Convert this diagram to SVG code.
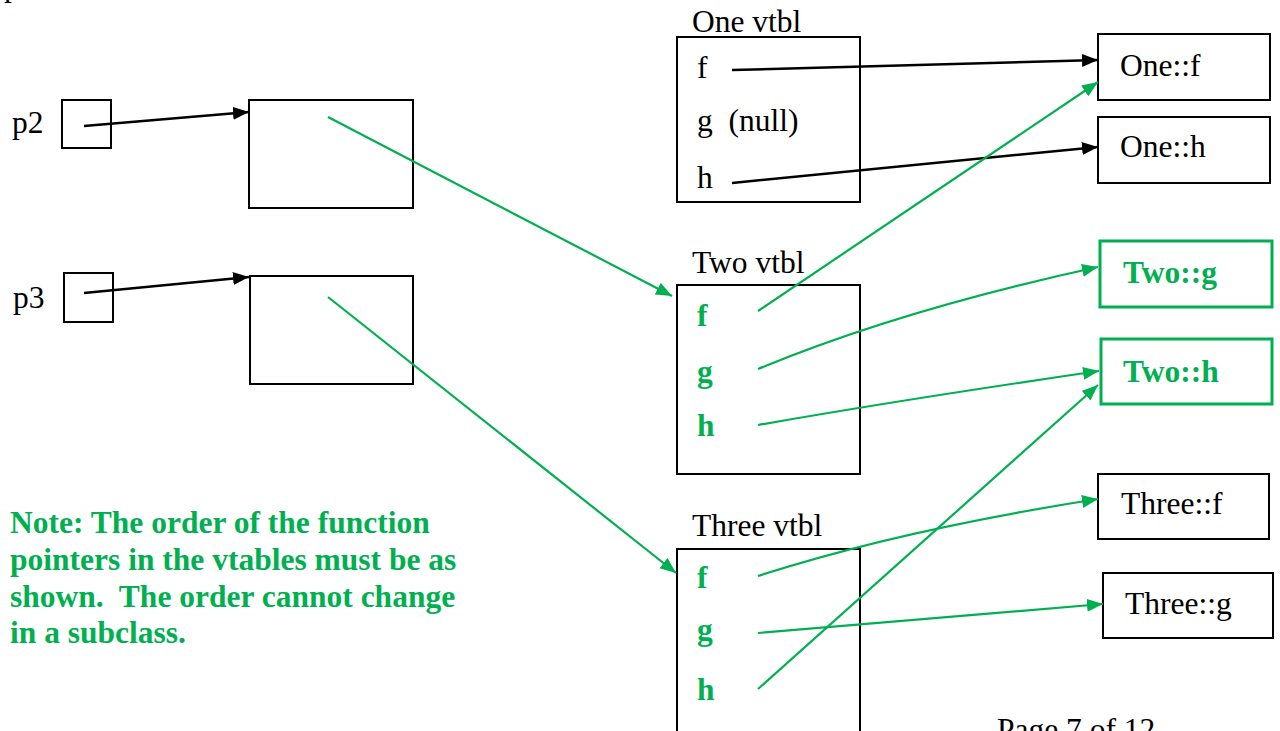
<svg xmlns="http://www.w3.org/2000/svg" width="1280" height="731" viewBox="0 0 1280 731">
<style>
text{font-family:"Liberation Serif","Times New Roman",serif;font-size:31.5px;fill:#000}
.g{fill:#00B050;font-weight:bold}
.box{fill:none;stroke:#000;stroke-width:2}
.gbox{fill:none;stroke:#00B050;stroke-width:3}
.bl{stroke:#000;stroke-width:2.5;fill:none}
.gl{stroke:#00B050;stroke-width:2.2;fill:none}
</style>
<defs>
<marker id="ab" markerUnits="userSpaceOnUse" markerWidth="18" markerHeight="14" refX="16" refY="6.5" orient="auto"><path d="M0,0 L16,6.5 L0,13 z" fill="#000"/></marker>
<marker id="ag" markerUnits="userSpaceOnUse" markerWidth="18" markerHeight="14" refX="16" refY="6.5" orient="auto"><path d="M0,0 L16,6.5 L0,13 z" fill="#00B050"/></marker>
</defs>
<rect width="1280" height="731" fill="#fff"/>
<text x="4" y="-4">p1</text>
<g id="p2"><text x="12" y="133">p2</text><rect class="box" x="62" y="100" width="49" height="48"/></g>
<g id="obj2"><rect class="box" x="249" y="100" width="164" height="108"/></g>
<g id="p3"><text x="13" y="308">p3</text><rect class="box" x="64" y="273" width="49" height="49"/></g>
<g id="obj3"><rect class="box" x="250" y="276" width="163" height="108"/></g>
<g id="onevtbl"><text x="692" y="32">One vtbl</text><rect class="box" x="677" y="37" width="183" height="165"/>
<text x="697" y="78">f</text><text x="697" y="131" xml:space="preserve">g  (null)</text><text x="697" y="188">h</text></g>
<g id="onef"><rect class="box" x="1098" y="34" width="172" height="66"/><text x="1120" y="76">One::f</text></g>
<g id="oneh"><rect class="box" x="1098" y="117" width="172" height="66"/><text x="1120" y="157">One::h</text></g>
<g id="twovtbl"><text x="692" y="273">Two vtbl</text><rect class="box" x="677" y="285" width="183" height="189"/>
<text class="g" x="697" y="326">f</text><text class="g" x="697" y="382">g</text><text class="g" x="697" y="436">h</text></g>
<g id="twog"><rect class="gbox" x="1100" y="241" width="172" height="66"/><text class="g" x="1123" y="283">Two::g</text></g>
<g id="twoh"><rect class="gbox" x="1101" y="339" width="171" height="65"/><text class="g" x="1123" y="382">Two::h</text></g>
<g id="threevtbl"><text x="692" y="536">Three vtbl</text><rect class="box" x="677" y="549" width="183" height="200"/>
<text class="g" x="697" y="588">f</text><text class="g" x="697" y="640">g</text><text class="g" x="697" y="700">h</text></g>
<g id="threef"><rect class="box" x="1098" y="474" width="171" height="65"/><text x="1121" y="514">Three::f</text></g>
<g id="threeg"><rect class="box" x="1103" y="573" width="170" height="65"/><text x="1125" y="614">Three::g</text></g>
<g id="note"><text class="g" x="10" y="533">Note: The order of the function</text>
<text class="g" x="10" y="570">pointers in the vtables must be as</text>
<text class="g" x="10" y="607" xml:space="preserve">shown.  The order cannot change</text>
<text class="g" x="10" y="643">in a subclass.</text></g>
<text x="997" y="740">Page 7 of 12</text>
<g id="connectors">
<line class="bl" x1="84" y1="126" x2="249" y2="112" marker-end="url(#ab)"/>
<line class="bl" x1="84" y1="293" x2="249" y2="277" marker-end="url(#ab)"/>
<line class="bl" x1="732" y1="70" x2="1098" y2="60" marker-end="url(#ab)"/>
<line class="bl" x1="732" y1="183" x2="1098" y2="147" marker-end="url(#ab)"/>
<line class="gl" x1="328" y1="117" x2="672" y2="296" marker-end="url(#ag)"/>
<line class="gl" x1="328" y1="297" x2="676" y2="573" marker-end="url(#ag)"/>
<line class="gl" x1="758" y1="311" x2="1098" y2="82" marker-end="url(#ag)"/>
<path class="gl" d="M758,369 Q900,310 1098,267" marker-end="url(#ag)"/>
<path class="gl" d="M758,425 Q900,400 1099,371" marker-end="url(#ag)"/>
<path class="gl" d="M758,576 Q900,530 1098,499" marker-end="url(#ag)"/>
<line class="gl" x1="758" y1="633" x2="1103" y2="604" marker-end="url(#ag)"/>
<line class="gl" x1="758" y1="689" x2="1098" y2="385" marker-end="url(#ag)"/>
</g>
</svg>
